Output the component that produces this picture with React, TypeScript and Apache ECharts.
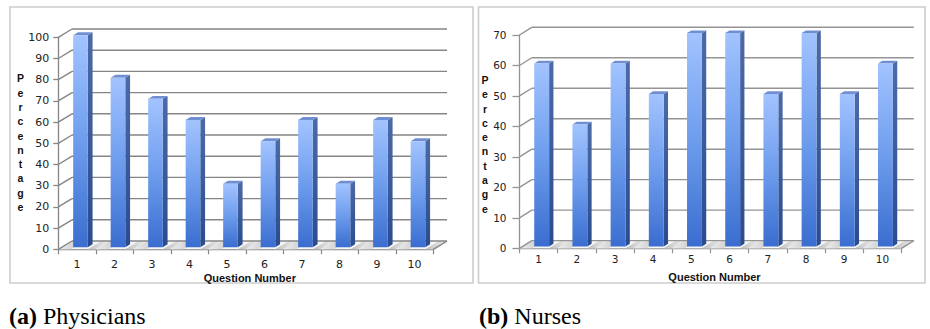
import React, { useEffect, useRef } from 'react';
import * as echarts from 'echarts';

const categories = ['1', '2', '3', '4', '5', '6', '7', '8', '9', '10'];
const physicians = [100, 80, 70, 60, 30, 50, 60, 30, 60, 50];
const nurses = [60, 40, 60, 50, 70, 70, 50, 70, 50, 60];
const physicianTicks = [0, 10, 20, 30, 40, 50, 60, 70, 80, 90, 100];
const nurseTicks = [0, 10, 20, 30, 40, 50, 60, 70];
const xTitle = 'Question Number';
const yTitle = 'Percentage';
const captions = [
  { tag: '(a)', label: 'Physicians' },
  { tag: '(b)', label: 'Nurses' },
];

type Panel = {
  values: number[];
  ticks: number[];
  max: number;
  left: number;
  top: number;
  width: number;
  height: number;
  dx: number;
  dy: number;
  yLabelMargin: number;
  yTickLen: number;
  xLabelMargin: number;
  xNameGap: number;
  labelSize: number;
  gridColor: string;
  titleX: number;
  titleY: number;
  box: [number, number, number, number];
  capX: number;
};

const panels: Panel[] = [
  {
    values: physicians, ticks: physicianTicks, max: 100,
    left: 58.3, top: 37.3, width: 375, height: 212,
    dx: 13.7, dy: -8.3, yLabelMargin: 9, yTickLen: 5, xLabelMargin: 9.5, xNameGap: 23.5,
    labelSize: 11, gridColor: '#858585', titleX: 20.5, titleY: 142.7,
    box: [10, 7, 463, 276], capX: 9,
  },
  {
    values: nurses, ticks: nurseTicks, max: 70,
    left: 519.5, top: 35, width: 382, height: 213.3,
    dx: 12.3, dy: -7.7, yLabelMargin: 13, yTickLen: 7, xLabelMargin: 5.5, xNameGap: 23,
    labelSize: 10.5, gridColor: '#949494', titleX: 485, titleY: 144.3,
    box: [478.5, 7, 446.5, 276], capX: 479,
  },
];

const DEPTH_FRONT = 0.25;
const DEPTH_SIZE = 0.35;
const BAR_RATIO = 0.39;
const SERIF = 'Liberation Serif';

export default function App() {
  const ref = useRef<HTMLDivElement>(null);

  useEffect(() => {
    if (!ref.current) return;
    const chart = echarts.init(ref.current, undefined, { renderer: 'svg' });

    const grids: any[] = [];
    const xAxes: any[] = [];
    const yAxes: any[] = [];
    const series: any[] = [];
    const graphics: any[] = [];
    const titles: any[] = [];

    panels.forEach((p, pi) => {
      grids.push({
        left: p.left, top: p.top, width: p.width, height: p.height,
        containLabel: false, outerBoundsMode: 'none',
      });
      xAxes.push({
        type: 'category', gridIndex: pi, data: categories, boundaryGap: true,
        axisLine: { show: true, lineStyle: { color: p.gridColor, width: 1.3 } },
        axisTick: { show: true, length: 5, lineStyle: { color: p.gridColor, width: 1.2 } },
        axisLabel: {
          margin: p.xLabelMargin, color: '#222', fontSize: p.labelSize,
          fontFamily: 'DejaVu Sans', interval: 0,
        },
        name: xTitle, nameLocation: 'middle', nameGap: p.xNameGap, nameMoveOverlap: false,
        nameTextStyle: {
          fontFamily: 'Liberation Sans', fontWeight: 'bold', fontSize: 11, color: '#111',
          padding: [0, 0, 0, 8],
        },
        splitLine: { show: false },
      });
      yAxes.push({
        type: 'value', gridIndex: pi, min: 0, max: p.max, interval: 10,
        axisLine: { show: true, lineStyle: { color: p.gridColor, width: 1.3 } },
        axisTick: { show: true, length: p.yTickLen, lineStyle: { color: p.gridColor, width: 1.3 } },
        axisLabel: {
          margin: p.yLabelMargin, color: '#222', fontSize: p.labelSize,
          fontFamily: 'DejaVu Sans',
        },
        splitLine: { show: false },
      });

      // floor
      series.push({
        type: 'custom', xAxisIndex: pi, yAxisIndex: pi, silent: true, z: 1,
        data: categories.map((_, i) => [i, 0]),
        renderItem: (params: any, api: any) => {
          const band = api.size([1, 0])[0];
          const c = api.coord([api.value(0), 0]);
          const xl = c[0] - band / 2;
          const xr = c[0] + band / 2;
          const y0 = c[1];
          const barL = c[0] - (band * BAR_RATIO) / 2 + p.dx * DEPTH_FRONT;
          const barR = barL + band * BAR_RATIO;
          const children: any[] = [
            {
              type: 'polygon',
              shape: { points: [[xl, y0], [xr, y0], [xr + p.dx, y0 + p.dy], [xl + p.dx, y0 + p.dy]] },
              style: { fill: '#f7f7f7' },
            },
            {
              type: 'polygon',
              shape: {
                points: [
                  [xl, y0], [barL - 2, y0], [barL - 2 + p.dx, y0 + p.dy], [xl + p.dx, y0 + p.dy],
                ],
              },
              style: {
                fill: new echarts.graphic.LinearGradient(0, 0, 1, 0, [
                  { offset: 0, color: '#ececec' },
                  { offset: 1, color: '#c4c4c4' },
                ]),
              },
            },
            {
              type: 'polygon',
              shape: {
                points: [
                  [barR, y0], [barR + 10, y0], [barR + 10 + p.dx, y0 + p.dy], [barR + p.dx, y0 + p.dy],
                ],
              },
              style: {
                fill: new echarts.graphic.LinearGradient(0, 0, 1, 0, [
                  { offset: 0, color: '#bebebe' },
                  { offset: 1, color: '#f3f3f3' },
                ]),
              },
            },
          ];
          return { type: 'group', children };
        },
      });

      // walls: diagonals + back gridlines
      series.push({
        type: 'custom', xAxisIndex: pi, yAxisIndex: pi, silent: true, z: 2,
        data: p.ticks.map((v) => [0, v]),
        renderItem: (params: any, api: any) => {
          const cs = params.coordSys;
          const v = api.value(1);
          const y = api.coord([0, v])[1];
          const x0 = cs.x;
          const x1 = cs.x + cs.width;
          const ls = { stroke: p.gridColor, lineWidth: 1.4, fill: 'none' };
          const children: any[] = [
            { type: 'line', shape: { x1: x0, y1: y, x2: x0 + p.dx, y2: y + p.dy }, style: ls },
            { type: 'line', shape: { x1: x0 + p.dx, y1: y + p.dy, x2: x1 + p.dx, y2: y + p.dy }, style: ls },
          ];
          if (v === 0) {
            children.push({ type: 'line', shape: { x1: x1, y1: y, x2: x1 + p.dx, y2: y + p.dy }, style: ls });
          }
          return { type: 'group', children };
        },
      });

      // 3D bars
      series.push({
        type: 'custom', xAxisIndex: pi, yAxisIndex: pi, silent: true, z: 3,
        data: p.values.map((v, i) => [i, v]),
        renderItem: (params: any, api: any) => {
          const band = api.size([1, 0])[0];
          const w = band * BAR_RATIO;
          const top = api.coord([api.value(0), api.value(1)]);
          const base = api.coord([api.value(0), 0]);
          const ox = p.dx * DEPTH_FRONT;
          const oy = p.dy * DEPTH_FRONT;
          const sx = p.dx * DEPTH_SIZE;
          const sy = p.dy * DEPTH_SIZE;
          const xl = top[0] - w / 2 + ox;
          const xr = xl + w;
          const yt = top[1] + oy;
          const yb = base[1] + oy;
          return {
            type: 'group',
            children: [
              {
                type: 'polygon',
                shape: { points: [[xr, yt], [xr + sx, yt + sy], [xr + sx, yb + sy], [xr, yb]] },
                style: {
                  fill: new echarts.graphic.LinearGradient(0, 0, 0, 1, [
                    { offset: 0, color: '#4c6aa6' },
                    { offset: 1, color: '#2a4c8f' },
                  ]),
                },
              },
              {
                type: 'polygon',
                shape: { points: [[xl, yt], [xr, yt], [xr + sx, yt + sy], [xl + sx, yt + sy]] },
                style: { fill: '#6f8fd2' },
              },
              {
                type: 'rect',
                shape: { x: xl, y: yt, width: w, height: yb - yt },
                style: {
                  fill: new echarts.graphic.LinearGradient(0, 0, 0, 1, [
                    { offset: 0, color: '#a2c3ff' },
                    { offset: 0.5, color: '#6e9ded' },
                    { offset: 1, color: '#3a6dcf' },
                  ]),
                },
              },
            ],
          };
        },
      });

      // panel border
      graphics.push({
        type: 'rect', silent: true, z: 0,
        shape: { x: p.box[0], y: p.box[1], width: p.box[2], height: p.box[3] },
        style: { fill: 'none', stroke: '#cdcdcd', lineWidth: 1.6 },
      });
      // vertical y title
      graphics.push({
        type: 'text', silent: true, x: p.titleX, y: p.titleY,
        style: {
          text: yTitle.split('').join('\n'),
          fontFamily: 'Liberation Sans', fontWeight: 'bold', fontSize: 10.5,
          lineHeight: 14.3, align: 'center', verticalAlign: 'middle', fill: '#111',
        },
      });
      // caption via title component (rich text)
      titles.push({
        text: `{b|${captions[pi].tag}} {r|${captions[pi].label}}`,
        left: p.capX, top: 303, padding: 0,
        textStyle: {
          fontFamily: SERIF, fontSize: 24, fontWeight: 'normal', color: '#000', lineHeight: 26,
          rich: {
            b: { fontFamily: SERIF, fontSize: 24, fontWeight: 'bold', color: '#000', lineHeight: 26 },
            r: { fontFamily: SERIF, fontSize: 24, fontWeight: 'normal', color: '#000', lineHeight: 26 },
          },
        },
      });
    });

    chart.setOption({
      animation: false,
      backgroundColor: '#ffffff',
      title: titles,
      grid: grids,
      xAxis: xAxes,
      yAxis: yAxes,
      series,
      graphic: graphics,
    });

    return () => chart.dispose();
  }, []);

  return (
    <div
      ref={ref}
      style={{ position: 'fixed', left: 0, top: 0, width: 930, height: 329 }}
    />
  );
}
